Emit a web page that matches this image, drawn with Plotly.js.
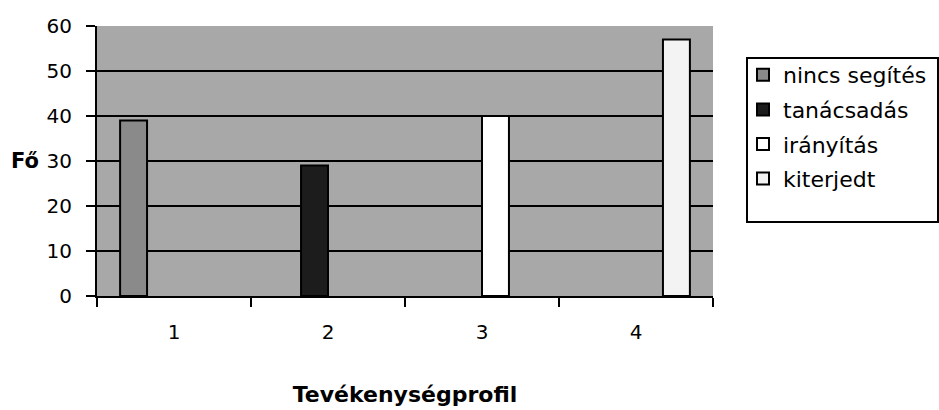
<!DOCTYPE html>
<html>
<head>
<meta charset="utf-8">
<script src="https://cdn.plot.ly/plotly-3.0.1.min.js"></script>
<style>html,body{margin:0;padding:0;background:#fff;}#chart{width:939px;height:410px;}</style>
</head>
<body>
<div id="chart"></div>
<script>
// Data
const categories = ["1", "2", "3", "4"];
const seriesNames = ["nincs segítés", "tanácsadás", "irányítás", "kiterjedt"];
const nincsSegites = [39, null, null, null];
const tanacsadas = [null, 29, null, null];
const iranyitas = [null, null, 40, null];
const kiterjedt = [null, null, null, 57];
const yTicks = [0, 10, 20, 30, 40, 50, 60];
const xTitle = "Tevékenységprofil";
const yTitle = "Fő";

const seriesValues = [nincsSegites, tanacsadas, iranyitas, kiterjedt];
const seriesColors = ["#8a8a8a", "#1c1c1c", "#ffffff", "#f3f3f3"];

const traces = seriesNames.map((name, i) => ({
  type: "bar",
  name: name,
  x: categories,
  y: seriesValues[i],
  legendgroup: "g" + i,
  marker: { color: seriesColors[i], line: { color: "#000", width: 2 } },
  hoverinfo: "x+y+name"
}));

const W = 939, H = 410;

const layout = {
  width: W,
  height: H,
  autosize: false,
  margin: { l: 97, r: 226, t: 26, b: 114, pad: 0 },
  paper_bgcolor: "#ffffff",
  plot_bgcolor: "#a8a8a8",
  barmode: "group",
  bargap: 0.3,
  bargroupgap: 0,
  font: { family: "DejaVu Sans, sans-serif", color: "#000", size: 20 },
  showlegend: true,
  legend: {
    x: 743 / W, xref: "container", xanchor: "left",
    y: 1 - 54 / H, yref: "container", yanchor: "top",
    bgcolor: "rgba(0,0,0,0)", borderwidth: 0,
    font: { family: "DejaVu Sans, sans-serif", size: 22, color: "#000" },
    tracegroupgap: 3,
    traceorder: "grouped"
  },
  shapes: [{
    type: "rect", xref: "paper", yref: "paper", layer: "below",
    x0: (747 - 97) / 616, x1: (938 - 97) / 616,
    y0: (296 - 222) / 270, y1: (296 - 58) / 270,
    line: { color: "#000", width: 2 }, fillcolor: "#fff"
  }],
  xaxis: {
    type: "category",
    categoryorder: "array",
    categoryarray: categories,
    tickson: "boundaries",
    ticks: "outside", ticklen: 9, tickwidth: 2, tickcolor: "#000",
    showline: true, linecolor: "#000", linewidth: 2,
    showgrid: false, zeroline: false,
    ticklabelstandoff: 17,
    tickfont: { family: "DejaVu Sans, sans-serif", size: 20 },
    title: { text: xTitle, standoff: 44, font: { family: "DejaVu Sans, sans-serif", size: 22, weight: "bold" } }
  },
  yaxis: {
    range: [0, 60],
    tickmode: "array", tickvals: yTicks, ticktext: yTicks.map(String),
    ticks: "outside", ticklen: 9, tickwidth: 2, tickcolor: "#000",
    showline: true, linecolor: "#000", linewidth: 2,
    showgrid: true, gridcolor: "#000", gridwidth: 2,
    zeroline: false,
    ticklabelstandoff: 10,
    tickfont: { family: "DejaVu Sans, sans-serif", size: 20 }
  },
  annotations: [{
    text: "<b>" + yTitle + "</b>",
    xref: "paper", yref: "y",
    x: (41 - 97) / 616, y: 30,
    xanchor: "right", yanchor: "middle",
    showarrow: false,
    font: { family: "DejaVu Sans, sans-serif", size: 21, color: "#000" }
  }]
};

Plotly.newPlot("chart", traces, layout, { displayModeBar: false, staticPlot: true });
</script>
</body>
</html>
